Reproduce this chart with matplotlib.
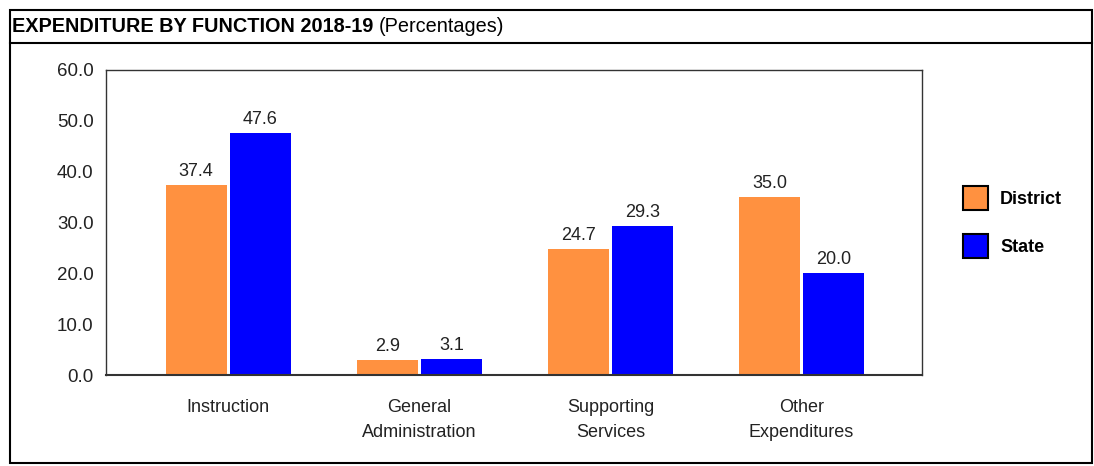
import matplotlib.pyplot as plt
import numpy as np
from matplotlib.patches import Rectangle

plt.rcParams['font.family'] = ['Liberation Sans', 'DejaVu Sans']

categories = ['Instruction', 'General\nAdministration', 'Supporting\nServices', 'Other\nExpenditures']
district = [37.4, 2.9, 24.7, 35.0]
state = [47.6, 3.1, 29.3, 20.0]
series_names = ['District', 'State']
colors = ['#FF9140', '#0000FF']
yticks = [0, 10, 20, 30, 40, 50, 60]

W, H = 1094, 466
fig = plt.figure(figsize=(W / 100, H / 100), dpi=100)

# outer frame and title bar
fig.patches.append(Rectangle((10 / W, 3 / H), 1082 / W, 453 / H, transform=fig.transFigure,
                             fill=False, edgecolor='black', linewidth=1.5))
fig.add_artist(plt.Line2D([10 / W, 1092 / W], [1 - 43 / H, 1 - 43 / H],
                          transform=fig.transFigure, color='black', linewidth=1.5))
t1 = fig.text(12 / W, 1 - 27 / H, 'EXPENDITURE BY FUNCTION 2018-19', fontsize=14.3,
              fontweight='bold', va='center', ha='left')
fig.canvas.draw()
bb = t1.get_window_extent()
fig.text((bb.x1 + 5) / W, 1 - 27 / H, '(Percentages)', fontsize=14.3, va='center', ha='left')

ax = fig.add_axes([106 / W, 1 - 375 / H, 816 / W, 305 / H])
x = np.arange(len(categories))
w = 0.32
gap = 0.008
b1 = ax.bar(x - w / 2 - gap, district, w, color=colors[0], label=series_names[0])
b2 = ax.bar(x + w / 2 + gap, state, w, color=colors[1], label=series_names[1])

for bars, vals in [(b1, district), (b2, state)]:
    for r, v in zip(bars, vals):
        ax.text(r.get_x() + r.get_width() / 2, v + 1.0, f'{v:.1f}', ha='center', va='bottom',
                fontsize=13, color='#222222')

ax.set_xlim(-0.64, 3.63)
ax.set_ylim(0, 60)
ax.set_yticks(yticks)
ax.set_yticklabels([f'{t:.1f}' for t in yticks], fontsize=13.5)
ax.set_xticks(x)
ax.set_xticklabels(categories, fontsize=13, linespacing=1.65)
ax.tick_params(axis='both', length=0, colors='#222222')
ax.tick_params(axis='y', pad=9)
ax.tick_params(axis='x', pad=17)
for s in ax.spines.values():
    s.set_color('#333333')
    s.set_linewidth(1.0)
ax.spines['bottom'].set_linewidth(1.5)

leg = fig.legend(handles=[b1, b2], labels=series_names, loc='upper left',
                 bbox_to_anchor=(963 / W, 1 - 186 / H), frameon=False, borderpad=0,
                 borderaxespad=0, prop={'weight': 'bold', 'size': 13}, handlelength=1.4,
                 handleheight=1.7, labelspacing=1.3, handletextpad=0.65)
for h in leg.legend_handles:
    h.set_edgecolor('black')
    h.set_linewidth(1.5)

fig.savefig('out.png', dpi=100)
